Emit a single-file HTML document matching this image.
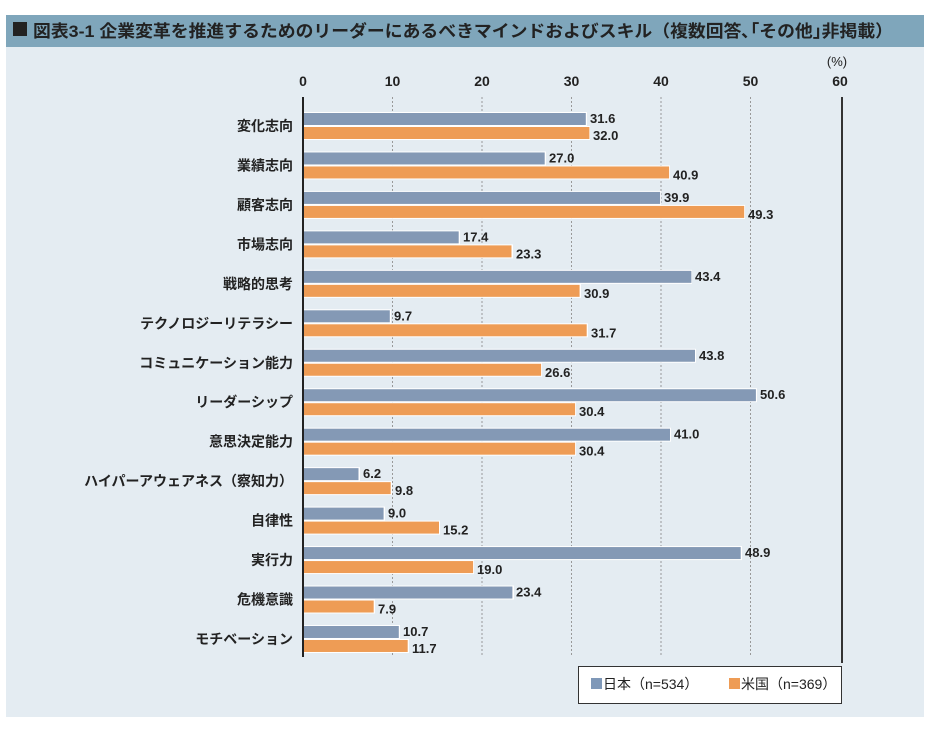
<!DOCTYPE html><html><head><meta charset="utf-8"><style>
body{margin:0;background:#fff;width:932px;height:726px;overflow:hidden}
text{font-family:"Liberation Sans","Noto Sans CJK JP",sans-serif}
.c{font-size:14px;font-weight:bold;fill:#222;text-anchor:end}
.v{font-size:13px;font-weight:bold;fill:#222}
</style></head><body>
<svg width="932" height="726" xmlns="http://www.w3.org/2000/svg">
<rect x="6" y="15" width="918" height="32" fill="#7fa6bb"/>
<rect x="6" y="47" width="918" height="670" fill="#e4ecf2"/>
<rect x="13" y="22" width="14" height="14" fill="#222"/>
<text x="33" y="37" font-size="17" font-weight="bold" fill="#222" textLength="860" lengthAdjust="spacingAndGlyphs">図表3-1 企業変革を推進するためのリーダーにあるべきマインドおよびスキル（複数回答､｢その他｣非掲載）</text>
<g font-size="14" font-weight="bold" fill="#222" text-anchor="middle">
<text x="303" y="86">0</text><text x="392.5" y="86">10</text><text x="482" y="86">20</text><text x="571.5" y="86">30</text><text x="661" y="86">40</text><text x="750.5" y="86">50</text><text x="840" y="86">60</text>
<text x="837" y="66" font-size="13" font-weight="normal">(%)</text>
</g>
<g stroke="#999" stroke-dasharray="2,2" stroke-width="1">
<line x1="392.5" y1="97" x2="392.5" y2="657"/><line x1="482" y1="97" x2="482" y2="657"/><line x1="571.5" y1="97" x2="571.5" y2="657"/><line x1="661" y1="97" x2="661" y2="657"/><line x1="750.5" y1="97" x2="750.5" y2="657"/>
</g>
<line x1="842" y1="97" x2="842" y2="663" stroke="#333" stroke-width="2"/>

<g transform="translate(0,126)"><text class="c" x="293" y="5">変化志向</text><rect x="303" y="-14" width="284" height="14" fill="#fff"/><rect x="303" y="-13" width="282.8" height="12" fill="#8499b5"/><rect x="303" y="0" width="287" height="14" fill="#fff"/><rect x="303" y="1" width="286.4" height="12" fill="#ee9c55"/><text class="v" x="590" y="-3">31.6</text><text class="v" x="593" y="14">32.0</text></g>
<g transform="translate(0,165.46)"><text class="c" x="293" y="5">業績志向</text><rect x="303" y="-14" width="243" height="14" fill="#fff"/><rect x="303" y="-13" width="241.7" height="12" fill="#8499b5"/><rect x="303" y="0" width="367" height="14" fill="#fff"/><rect x="303" y="1" width="366.1" height="12" fill="#ee9c55"/><text class="v" x="549" y="-3">27.0</text><text class="v" x="673" y="14">40.9</text></g>
<g transform="translate(0,204.92)"><text class="c" x="293" y="5">顧客志向</text><rect x="303" y="-14" width="358" height="14" fill="#fff"/><rect x="303" y="-13" width="357.1" height="12" fill="#8499b5"/><rect x="303" y="0" width="442" height="14" fill="#fff"/><rect x="303" y="1" width="441.2" height="12" fill="#ee9c55"/><text class="v" x="664" y="-3">39.9</text><text class="v" x="748" y="14">49.3</text></g>
<g transform="translate(0,244.38)"><text class="c" x="293" y="5">市場志向</text><rect x="303" y="-14" width="157" height="14" fill="#fff"/><rect x="303" y="-13" width="155.7" height="12" fill="#8499b5"/><rect x="303" y="0" width="210" height="14" fill="#fff"/><rect x="303" y="1" width="208.5" height="12" fill="#ee9c55"/><text class="v" x="463" y="-3">17.4</text><text class="v" x="516" y="14">23.3</text></g>
<g transform="translate(0,283.84)"><text class="c" x="293" y="5">戦略的思考</text><rect x="303" y="-14" width="389" height="14" fill="#fff"/><rect x="303" y="-13" width="388.4" height="12" fill="#8499b5"/><rect x="303" y="0" width="278" height="14" fill="#fff"/><rect x="303" y="1" width="276.6" height="12" fill="#ee9c55"/><text class="v" x="695" y="-3">43.4</text><text class="v" x="584" y="14">30.9</text></g>
<g transform="translate(0,323.3)"><text class="c" x="293" y="5">テクノロジーリテラシー</text><rect x="303" y="-14" width="88" height="14" fill="#fff"/><rect x="303" y="-13" width="86.8" height="12" fill="#8499b5"/><rect x="303" y="0" width="285" height="14" fill="#fff"/><rect x="303" y="1" width="283.7" height="12" fill="#ee9c55"/><text class="v" x="394" y="-3">9.7</text><text class="v" x="591" y="14">31.7</text></g>
<g transform="translate(0,362.76)"><text class="c" x="293" y="5">コミュニケーション能力</text><rect x="303" y="-14" width="393" height="14" fill="#fff"/><rect x="303" y="-13" width="392" height="12" fill="#8499b5"/><rect x="303" y="0" width="239" height="14" fill="#fff"/><rect x="303" y="1" width="238.1" height="12" fill="#ee9c55"/><text class="v" x="699" y="-3">43.8</text><text class="v" x="545" y="14">26.6</text></g>
<g transform="translate(0,402.22)"><text class="c" x="293" y="5">リーダーシップ</text><rect x="303" y="-14" width="454" height="14" fill="#fff"/><rect x="303" y="-13" width="452.9" height="12" fill="#8499b5"/><rect x="303" y="0" width="273" height="14" fill="#fff"/><rect x="303" y="1" width="272.1" height="12" fill="#ee9c55"/><text class="v" x="760" y="-3">50.6</text><text class="v" x="579" y="14">30.4</text></g>
<g transform="translate(0,441.68)"><text class="c" x="293" y="5">意思決定能力</text><rect x="303" y="-14" width="368" height="14" fill="#fff"/><rect x="303" y="-13" width="367" height="12" fill="#8499b5"/><rect x="303" y="0" width="273" height="14" fill="#fff"/><rect x="303" y="1" width="272.1" height="12" fill="#ee9c55"/><text class="v" x="674" y="-3">41.0</text><text class="v" x="579" y="14">30.4</text></g>
<g transform="translate(0,481.14)"><text class="c" x="293" y="5">ハイパーアウェアネス（察知力）</text><rect x="303" y="-14" width="57" height="14" fill="#fff"/><rect x="303" y="-13" width="55.5" height="12" fill="#8499b5"/><rect x="303" y="0" width="89" height="14" fill="#fff"/><rect x="303" y="1" width="87.7" height="12" fill="#ee9c55"/><text class="v" x="363" y="-3">6.2</text><text class="v" x="395" y="14">9.8</text></g>
<g transform="translate(0,520.6)"><text class="c" x="293" y="5">自律性</text><rect x="303" y="-14" width="82" height="14" fill="#fff"/><rect x="303" y="-13" width="80.6" height="12" fill="#8499b5"/><rect x="303" y="0" width="137" height="14" fill="#fff"/><rect x="303" y="1" width="136" height="12" fill="#ee9c55"/><text class="v" x="388" y="-3">9.0</text><text class="v" x="443" y="14">15.2</text></g>
<g transform="translate(0,560.06)"><text class="c" x="293" y="5">実行力</text><rect x="303" y="-14" width="439" height="14" fill="#fff"/><rect x="303" y="-13" width="437.7" height="12" fill="#8499b5"/><rect x="303" y="0" width="171" height="14" fill="#fff"/><rect x="303" y="1" width="170.1" height="12" fill="#ee9c55"/><text class="v" x="745" y="-3">48.9</text><text class="v" x="477" y="14">19.0</text></g>
<g transform="translate(0,599.52)"><text class="c" x="293" y="5">危機意識</text><rect x="303" y="-14" width="211" height="14" fill="#fff"/><rect x="303" y="-13" width="209.4" height="12" fill="#8499b5"/><rect x="303" y="0" width="72" height="14" fill="#fff"/><rect x="303" y="1" width="70.7" height="12" fill="#ee9c55"/><text class="v" x="516" y="-3">23.4</text><text class="v" x="378" y="14">7.9</text></g>
<g transform="translate(0,638.98)"><text class="c" x="293" y="5">モチベーション</text><rect x="303" y="-14" width="97" height="14" fill="#fff"/><rect x="303" y="-13" width="95.8" height="12" fill="#8499b5"/><rect x="303" y="0" width="106" height="14" fill="#fff"/><rect x="303" y="1" width="104.7" height="12" fill="#ee9c55"/><text class="v" x="403" y="-3">10.7</text><text class="v" x="412" y="14">11.7</text></g>

<line x1="303" y1="97" x2="303" y2="657" stroke="#222" stroke-width="2"/>
<rect x="578.5" y="666.5" width="263" height="37" fill="#fff" stroke="#333"/>
<rect x="591" y="678" width="11" height="11" fill="#7f98b8"/>
<text x="603" y="689" font-size="14" fill="#222">日本（n=534）</text>
<rect x="729" y="678" width="11" height="11" fill="#ee9c55"/>
<text x="741" y="689" font-size="14" fill="#222">米国（n=369）</text>
</svg></body></html>
